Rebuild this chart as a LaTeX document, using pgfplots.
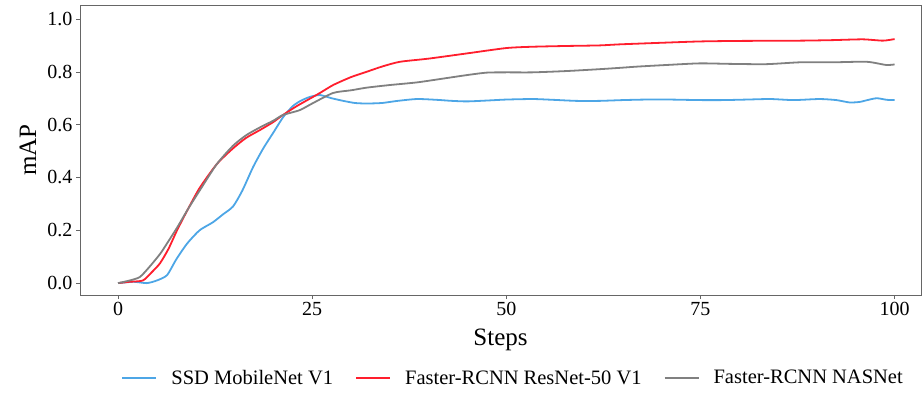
\documentclass[border=0pt]{standalone}
\usepackage{pgfplots}
\pgfplotsset{compat=1.18}
\usepackage{fontspec}
\setmainfont{Liberation Serif}
\usetikzlibrary{calc}

\definecolor{ssdblue}{RGB}{77,166,230}
\definecolor{resred}{RGB}{255,30,45}
\definecolor{nasgray}{RGB}{128,128,128}

\pgfplotstableread{
x y
0 0.0
2 0.005
3.7 0.0
5 0.01
6.3 0.03
7.5 0.09
8.9 0.15
10.5 0.20
12.2 0.23
13.5 0.26
14.8 0.29
16 0.35
17.4 0.44
18.7 0.51
20 0.57
21.3 0.63
22.5 0.67
23.5 0.69
24.7 0.705
26 0.712
27.5 0.70
29 0.69
30.5 0.682
32 0.68
34 0.682
36 0.69
38.5 0.697
41 0.694
43 0.69
45 0.688
48 0.692
50 0.695
53.4 0.697
56 0.694
59 0.69
62 0.69
65 0.693
68 0.695
71 0.695
74.9 0.693
78 0.693
81 0.695
84 0.697
87 0.693
90.3 0.697
92.5 0.693
94.2 0.684
95.5 0.686
96.5 0.693
97.7 0.70
99 0.694
100 0.693
}\ssd

\pgfplotstableread{
x y
0 0.0
1.5 0.005
3.2 0.01
4.3 0.04
5.4 0.075
6.5 0.13
7.6 0.20
9 0.28
10.5 0.36
12.7 0.45
14.8 0.51
16.5 0.55
18.3 0.58
20 0.61
21.2 0.636
23 0.67
24.5 0.695
26 0.72
27.7 0.75
30 0.78
32 0.80
34 0.82
36.3 0.838
40 0.85
45 0.87
50 0.89
53.4 0.895
58 0.898
62 0.90
64.6 0.904
70 0.91
74.9 0.915
80 0.917
87.8 0.918
92 0.92
95.9 0.923
98.5 0.918
100 0.924
}\resnet

\pgfplotstableread{
x y
0 0.0
1.5 0.01
2.8 0.023
4 0.06
5.4 0.11
6.3 0.15
7.6 0.21
9 0.28
10.5 0.35
12.7 0.45
14.8 0.52
16.5 0.56
18.3 0.59
20 0.615
21.2 0.636
23.4 0.655
25 0.68
27.7 0.72
30 0.73
32 0.74
35 0.75
38.5 0.76
42 0.775
45 0.788
47.5 0.797
50 0.798
53.4 0.798
57.8 0.803
62 0.81
64.6 0.815
67 0.82
70.7 0.826
74.9 0.832
79 0.83
83.5 0.829
87.8 0.836
92 0.836
96.4 0.838
98.9 0.826
100 0.828
}\nasnet

\begin{document}
\begin{tikzpicture}
\begin{axis}[
    name=ax,
    scale only axis,
    width=841pt, height=290pt,
    xmin=-4.9, xmax=103.4,
    ymin=-0.045, ymax=1.053,
    xtick={0,25,50,75,100},
    ytick={0,0.2,0.4,0.6,0.8,1.0},
    yticklabel style={/pgf/number format/fixed, /pgf/number format/fixed zerofill, /pgf/number format/precision=1},
    /pgf/number format/assume math mode=true,
    tick label style={font=\fontsize{20}{22}\selectfont},
    tick align=outside, tick pos=left,
    major tick length=4pt,
    tick style={color=black!60, line width=0.6pt},
    axis line style={color=black!60, line width=0.6pt},
    xlabel={Steps}, ylabel={mAP},
    label style={font=\fontsize{25}{28}\selectfont},
    xlabel style={at={(axis description cs:0.5,-0.155)}, anchor=center},
    ylabel style={at={(axis description cs:-0.062,0.5)}, anchor=center, rotate=0},
    legend columns=3,
    legend style={draw=none, fill=none, at={(0.515,-0.286)}, anchor=center,
        font=\fontsize{20.5}{22}\selectfont,
        /tikz/every odd column/.append style={column sep=12pt},
        /tikz/every even column/.append style={column sep=20pt}},
    legend image code/.code={\draw[#1, line width=2pt] (0pt,0pt) -- (34pt,0pt);},
]
\addplot[color=ssdblue, line width=1.8pt, smooth, tension=0.4] table {\ssd};
\addlegendentry{SSD MobileNet V1}
\addplot[color=resred, line width=1.8pt, smooth, tension=0.4] table {\resnet};
\addlegendentry{Faster-RCNN ResNet-50 V1}
\addplot[color=nasgray, line width=1.8pt, smooth, tension=0.4] table {\nasnet};
\addlegendentry{Faster-RCNN NASNet}
\end{axis}
\pgfresetboundingbox
\path[use as bounding box] ($(ax.south west)+(-80pt,-112pt)$) rectangle ($(ax.north east)+(3pt,5pt)$);
\end{tikzpicture}
\end{document}
